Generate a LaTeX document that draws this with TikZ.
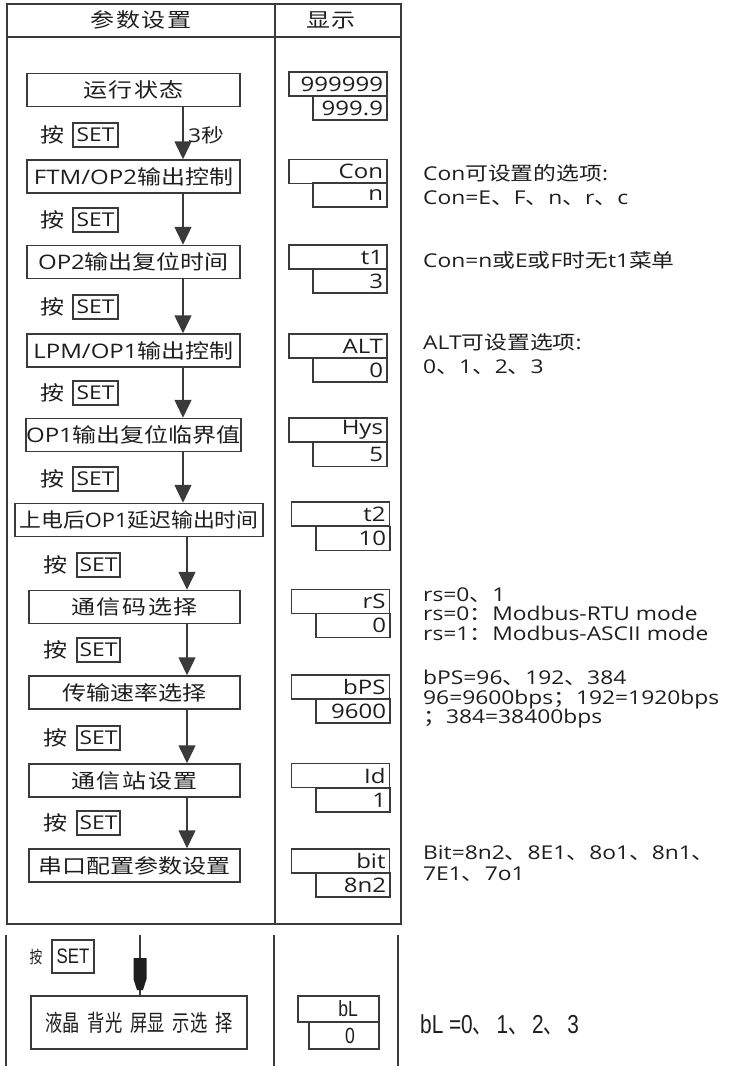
\documentclass[tikz,border=0pt]{standalone}
\usepackage{fontspec}
\usepackage{graphicx}
\setmainfont{Open Sans}[FakeStretch=1.2]
\newfontfamily\cjk{Noto Sans CJK SC}[FakeStretch=1.2]
\newfontfamily\cjkw{Noto Sans CJK SC}[FakeStretch=1.2,LetterSpace=8]
\newfontfamily\cjkn{Noto Sans CJK SC}[FakeStretch=0.75]
\newfontfamily\latn{Liberation Sans}[FakeStretch=0.8]
\usetikzlibrary{arrows.meta}
\definecolor{lc}{HTML}{3A3A3A}
\definecolor{tc}{HTML}{1E1E1E}
\newcommand\dun{{\cjk 、}}
\newcommand\dunn{{\cjkn 、}}
\newcommand\mh{{\cjk ：}}
\newcommand\fh{{\cjk ；}}
\begin{document}
\begin{tikzpicture}[x=1pt,y=-1pt,
  frame/.style={draw=lc,line width=1.8pt},
  bx/.style={draw=lc,line width=1.5pt,minimum height=33pt,inner sep=0pt,text=tc,font=\fontsize{20}{24}\selectfont},
  dt/.style={draw=lc,line width=1.4pt,minimum height=24pt,inner ysep=0pt,inner xsep=4pt,text width=90pt,align=right,text=tc,font=\fontsize{20}{24}\selectfont},
  db/.style={dt,text width=66pt},
  an/.style={text=tc,inner sep=0pt,font=\fontsize{20}{24}\selectfont\cjk},
  setb/.style={draw=lc,line width=1.4pt,minimum width=45pt,minimum height=24pt,inner sep=0pt,text=tc,font=\fontsize{19}{22}\selectfont},
  arr/.style={draw=lc,line width=1.5pt,-{Triangle[width=17pt,length=18pt]}},
  note/.style={anchor=west,align=left,inner sep=0pt,text=tc,font=\fontsize{19}{24}\selectfont},
  hd/.style={text=tc,inner sep=0pt,font=\fontsize{20}{24}\selectfont\cjkw}
]
\useasboundingbox (0,0) rectangle (730,1066);
\fill[white] (0,0) rectangle (730,1066);

% table frame
\draw[frame] (7,4) rectangle (401,924);
\draw[frame] (7,37) -- (401,37);
\draw[frame] (275,4) -- (275,924);
\node[hd] (h1) at (141,20) {参数设置};
\node[hd] (h2) at (331,20) {显示};

% left boxes
\node[bx,minimum width=213pt] (b1) at (133.5,90) {\cjkw 运行状态};
\node[bx,minimum width=213pt] (b2) at (133.5,176.5) {FTM/OP2{\cjk 输出控制}};
\node[bx,minimum width=213pt] (b3) at (133.5,262) {OP2{\cjk 输出复位时间}};
\node[bx,minimum width=213pt] (b4) at (133.5,350.5) {LPM/OP1{\cjk 输出控制}};
\node[bx,minimum width=213pt] (b5) at (133.5,435) {OP1{\cjk 输出复位临界值}};
\node[bx,minimum width=248pt] (b6) at (139,520) {\scalebox{0.91}[1]{{\cjk 上电后}OP1{\cjk 延迟输出时间}}};
\node[bx,minimum width=211pt] (b7) at (134.5,607) {\cjkw 通信码选择};
\node[bx,minimum width=211pt] (b8) at (134.5,692.5) {\cjk 传输速率选择};
\node[bx,minimum width=211pt] (b9) at (134.5,780.5) {\cjkw 通信站设置};
\node[bx,minimum width=211pt] (b10) at (134.5,865.5) {\cjk 串口配置参数设置};

% press SET labels
\node[an] (p1) at (52.5,135) {按}; \node[setb] (s1) at (95.5,135) {SET};
\node[an] (p2) at (52.5,220) {按}; \node[setb] (s2) at (95.5,220) {SET};
\node[an] (p3) at (52.5,307) {按}; \node[setb] (s3) at (95.5,307) {SET};
\node[an] (p4) at (52.5,393) {按}; \node[setb] (s4) at (95.5,393) {SET};
\node[an] (p5) at (52.5,479) {按}; \node[setb] (s5) at (95.5,479) {SET};
\node[an] (p6) at (55,565) {按}; \node[setb,minimum width=43pt] (s6) at (98.5,565) {SET};
\node[an] (p7) at (55,650) {按}; \node[setb,minimum width=43pt] (s7) at (98.5,650) {SET};
\node[an] (p8) at (55,738) {按}; \node[setb,minimum width=43pt] (s8) at (98.5,738) {SET};
\node[an] (p9) at (55,823) {按}; \node[setb,minimum width=43pt] (s9) at (98.5,823) {SET};

% arrows
\coordinate (ax) at (183,0);
\coordinate (bx) at (187,0);
\draw[arr] (b1.south -| ax) -- (b2.north -| ax);
\draw[arr] (b2.south -| ax) -- (b3.north -| ax);
\draw[arr] (b3.south -| ax) -- (b4.north -| ax);
\draw[arr] (b4.south -| ax) -- (b5.north -| ax);
\draw[arr] (b5.south -| ax) -- (b6.north -| ax);
\draw[arr] (b6.south -| bx) -- (b7.north -| bx);
\draw[arr] (b7.south -| bx) -- (b8.north -| bx);
\draw[arr] (b8.south -| bx) -- (b9.north -| bx);
\draw[arr] (b9.south -| bx) -- (b10.north -| bx);
\node[anchor=west,inner sep=0pt,text=tc,font=\fontsize{19}{22}\selectfont] (t3) at (188,135) {3{\cjk 秒}};

% display boxes
\node[dt] (d1t) at (338,84) {999999};   \node[db] (d1b) at (350,108) {999.9};
\node[dt] (d2t) at (338,171.5) {Con};   \node[db] (d2b) at (350,195) {n};
\node[dt] (d3t) at (338,257) {t1};      \node[db] (d3b) at (350,281) {3};
\node[dt] (d4t) at (338,346) {ALT};     \node[db] (d4b) at (350,370) {0};
\node[dt] (d5t) at (338,430) {Hys};     \node[db] (d5b) at (350,454.5) {5};
\node[dt] (d6t) at (340.5,514) {t2};    \node[db] (d6b) at (353,538.5) {10};
\node[dt] (d7t) at (340.5,601.5) {rS};  \node[db] (d7b) at (353,625.5) {0};
\node[dt] (d8t) at (340.5,687) {bPS};   \node[db] (d8b) at (353,711) {9600};
\node[dt] (d9t) at (340.5,775.5) {Id};  \node[db] (d9b) at (353,800) {1};
\node[dt] (d10t) at (340.5,861) {bit};  \node[db] (d10b) at (353,885) {8n2};

% notes
\node[note] (n2) at (423,185) {Con{\cjk 可设置的选项}:\\Con=E\dun F\dun n\dun r\dun c};
\node[note] (n3) at (423,260) {Con=n{\cjk 或}E{\cjk 或}F{\cjk 时无}t1{\cjk 菜单}};
\node[note] (n4) at (423,354) {ALT{\cjk 可设置选项}:\\0\dun 1\dun 2\dun 3};
\node[note,font=\fontsize{19}{19.5}\selectfont] (n7) at (423,614) {rs=0\dun 1\\rs=0\mh Modbus-RTU mode\\rs=1\mh Modbus-ASCII mode};
\node[note,font=\fontsize{19}{19.5}\selectfont] (n8) at (423,699.5) {bPS=96\dun 192\dun 384\\96=9600bps\fh 192=1920bps\\\fh 384=38400bps};
\node[note,font=\fontsize{19}{21}\selectfont] (n10) at (423,863.5) {Bit=8n2\dun 8E1\dun 8o1\dun 8n1\dun\\7E1\dun 7o1};

% bottom section
\draw[draw=lc,line width=1.6pt] (6,935) -- (6,1066);
\draw[draw=lc,line width=1.6pt] (274,935) -- (274,1066);
\draw[draw=lc,line width=1.6pt] (398,935) -- (398,1066);
\node[draw=lc,line width=1.5pt,minimum width=216pt,minimum height=53pt,inner sep=0pt,text=tc,font=\fontsize{23}{24}\selectfont\cjkn] (b11) at (139,1022.5) {液晶\hspace{8pt}背光\hspace{8pt}屏显\hspace{8pt}示选\hspace{8pt}择};
\node[text=tc,inner sep=0pt,font=\fontsize{17}{20}\selectfont\cjkn] (p10) at (36,957) {按};
\node[draw=lc,line width=1.4pt,minimum width=42pt,minimum height=33pt,inner sep=0pt,text=tc,font=\fontsize{21}{24}\selectfont\latn] (s10) at (73,956.5) {SET};
\coordinate (top11) at (140,935);
\draw[draw=lc,line width=1.4pt] (top11) -- (b11.north -| top11);
\fill[tc] (133.5,958) -- (146.5,958) -- (146.5,979) -- (143,990) -- (137,990) -- (133.5,979) -- cycle;
\node[draw=lc,line width=1.4pt,minimum height=26pt,inner ysep=0pt,inner xsep=21pt,text width=39pt,align=right,text=tc,font=\fontsize{22}{24}\selectfont\latn] (d11t) at (338.5,1009) {bL};
\node[draw=lc,line width=1.4pt,minimum height=27pt,inner ysep=0pt,inner xsep=24pt,text width=22pt,align=right,text=tc,font=\fontsize{22}{24}\selectfont\latn] (d11b) at (344,1035.5) {0};
\node[anchor=west,inner sep=0pt,text=tc,font=\fontsize{26}{28}\selectfont\latn] (n11) at (420,1025) {bL =0\dunn\,1\dunn\,2\dunn\,3};
\end{tikzpicture}
\end{document}
